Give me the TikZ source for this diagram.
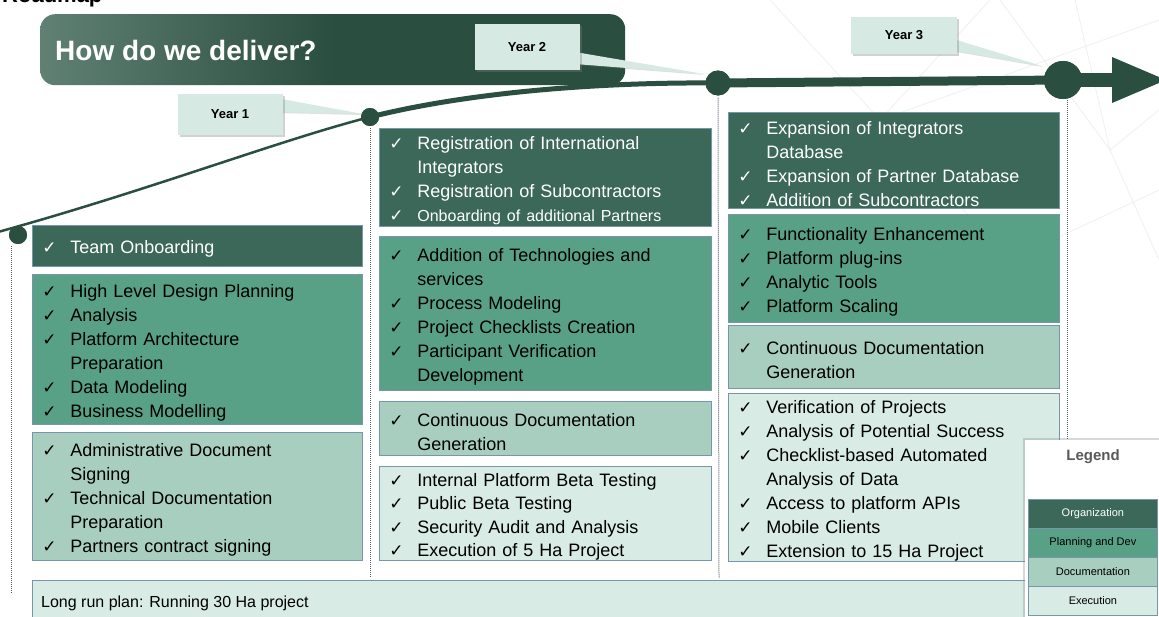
\documentclass[tikz,border=0pt]{standalone}
\usepackage{fontspec}
\setmainfont{Liberation Sans}
\newfontfamily\symf{DejaVu Sans}
\usetikzlibrary{shadows}
\definecolor{dkC}{RGB}{42,78,64}
\definecolor{dkL}{RGB}{96,128,116}
\definecolor{orgC}{RGB}{59,104,89}
\definecolor{planC}{RGB}{88,160,134}
\definecolor{docC}{RGB}{168,206,191}
\definecolor{exeC}{RGB}{217,235,229}
\definecolor{bordC}{RGB}{120,150,170}
\definecolor{calC}{RGB}{214,233,226}
\definecolor{dotC}{RGB}{80,90,110}
\newcommand{\ckm}{{\symf\fontsize{17}{17}\selectfont ✓}}
\newcommand{\itm}[1]{\noindent\hangindent=28pt\hangafter=1\rule{0pt}{19.5pt}\makebox[28pt][l]{\ckm}#1\par}
\begin{document}
\begin{tikzpicture}[x=1pt,y=-1pt,
  box/.style={draw=bordC, line width=0.8pt, inner xsep=10pt, inner ysep=0pt, align=left,
    font=\fontsize{18}{24}\selectfont, anchor=north west},
  orgbox/.style={box, fill=orgC, text=white},
  planbox/.style={box, fill=planC, text=black},
  docbox/.style={box, fill=docC, text=black},
  exebox/.style={box, fill=exeC, text=black},
  legbox/.style={draw=bordC, line width=0.8pt, minimum width=129pt, minimum height=29pt,
    inner sep=0pt, font=\fontsize{11}{13}\selectfont, anchor=north west},
  yearbox/.style={fill=calC, inner sep=0pt, font=\bfseries\fontsize{13}{15}\selectfont,
    drop shadow={shadow xshift=2pt, shadow yshift=-2pt, opacity=0.35}},
  wedge/.style={fill=calC, drop shadow={shadow xshift=1pt, shadow yshift=-1pt, opacity=0.25}},
  milestone/.style={circle, fill=dkC, inner sep=0pt},
  dotline/.style={draw=dotC, line width=1pt, dash pattern=on 0.8pt off 1.2pt},
  bgline/.style={draw=gray!12, line width=0.8pt}
]
\useasboundingbox (0,0) rectangle (1159,616);
\fill[white] (0,0) rectangle (1159,616);

% faint background network
\draw[bgline] (770,0) -- (880,120) -- (1159,20);
\draw[bgline] (880,120) -- (990,0);
\draw[bgline] (1000,0) -- (1110,150) -- (1159,110);
\draw[bgline] (1110,150) -- (1159,260);
\draw[bgline] (1075,0) -- (1110,150);
\draw[bgline] (880,120) -- (1010,260) -- (1159,190);

% cut-off title
\node[anchor=base west, inner sep=0pt, font=\bfseries\fontsize{22}{24}\selectfont] (rm) at (2,2) {Roadmap};

% title box
\node[anchor=north west, minimum width=585pt, minimum height=71pt, rounded corners=15pt,
  left color=dkL, right color=dkC, middle color=dkC, inner sep=0pt] (title) at (40,14) {};
\node[anchor=west, text=white, font=\bfseries\fontsize{28}{30}\selectfont, inner sep=0pt] (ttext) at (55,50) {How do we deliver?};

% milestones
\node[milestone, minimum size=18pt] (n1) at (18,235) {};
\node[milestone, minimum size=18pt] (n2) at (370,117) {};
\node[milestone, minimum size=25pt] (n3) at (718,83) {};
\node[milestone, minimum size=38pt] (n4) at (1063,80) {};
\coordinate (s0) at (-2,232);
\coordinate (ashaft) at (1114,80);
\coordinate (atip) at (1166,80);

% dotted guides
\coordinate (d1) at (11,593);
\coordinate (d2) at (370,578);
\coordinate (d3) at (719,578);
\coordinate (d4a) at (1067,100);
\coordinate (d4) at (1067,578);
\draw[dotline] (11,246) -- (d1);
\draw[dotline] (n2.south) ++(0,2) -- (d2);
\draw[dotline] (n3.south) ++(0,2) -- (d3);
\draw[dotline] (d4a) -- (d4);

% timeline
\draw[dkC, line width=2.5pt] (s0) .. controls (150,190) and (280,140) .. (n2.center);
\draw[dkC, line width=5pt] (n2.center) .. controls (470,92) and (600,82) .. (n3.center);
\draw[dkC, line width=9pt] (n3.center) -- (n4.center);
\draw[dkC, line width=14pt] (n4.center) -- (ashaft);
\fill[dkC] (1112,57) -- (atip) -- (1112,103) -- cycle;
\node[milestone, minimum size=18pt] at (n1) {};
\node[milestone, minimum size=18pt] at (n2) {};
\node[milestone, minimum size=25pt] at (n3) {};
\node[milestone, minimum size=38pt] at (n4) {};

% year callouts
\fill[wedge] (276,98) -- (276,112) -- (363,114) -- cycle;
\node[yearbox, minimum width=105pt, minimum height=41pt] (y1) at (230,114) {Year 1};
\fill[wedge] (575,52) -- (575,64) -- (704,74) -- cycle;
\node[yearbox, minimum width=105pt, minimum height=46pt] (y2) at (527,47) {Year 2};
\fill[wedge] (950,38) -- (950,50) -- (1042,66) -- cycle;
\node[yearbox, minimum width=106pt, minimum height=37pt] (y3) at (904,35) {Year 3};

% column 1
\node[orgbox, text width=310pt, minimum height=41pt] (c1o) at (32,225) {\itm{Team Onboarding}};
\node[planbox, text width=310pt, minimum height=150pt] (c1p) at (32,274) {\itm{High Level Design Planning}\itm{Analysis}\itm{Platform Architecture\newline Preparation}\itm{Data Modeling}\itm{Business Modelling}};
\node[docbox, text width=310pt, minimum height=128pt] (c1d) at (32,432) {\itm{Administrative Document\newline Signing}\itm{Technical Documentation\newline Preparation}\itm{Partners contract signing}};

% column 2
\node[orgbox, text width=312pt, minimum height=98pt] (c2o) at (379,128) {\itm{Registration of International\newline Integrators}\itm{Registration of Subcontractors}\itm{{\fontsize{16}{20}\selectfont Onboarding of additional Partners}}};
\node[planbox, text width=312pt, minimum height=154pt] (c2p) at (379,236) {\itm{Addition of Technologies and\newline services}\itm{Process Modeling}\itm{Project Checklists Creation}\itm{Participant Verification\newline Development}};
\node[docbox, text width=312pt, minimum height=54pt] (c2d) at (379,401) {\itm{Continuous Documentation\newline Generation}};
\node[exebox, text width=312pt, minimum height=94pt, font=\fontsize{18}{23.5}\selectfont] (c2e) at (379,466) {\itm{Internal Platform Beta Testing}\itm{Public Beta Testing}\itm{Security Audit and Analysis}\itm{Execution of 5 Ha Project}};

% column 3
\node[orgbox, text width=311pt, minimum height=96pt] (c3o) at (728,112) {\itm{Expansion of Integrators\newline Database}\itm{Expansion of Partner Database}\itm{Addition of Subcontractors}};
\node[planbox, text width=311pt, minimum height=108pt] (c3p) at (728,214) {\itm{Functionality Enhancement}\itm{Platform plug-ins}\itm{Analytic Tools}\itm{Platform Scaling}};
\node[docbox, text width=311pt, minimum height=63pt] (c3d) at (728,325) {\itm{Continuous Documentation\newline Generation}};
\node[exebox, text width=311pt, minimum height=168pt] (c3e) at (728,393) {\itm{Verification of Projects}\itm{Analysis of Potential Success}\itm{Checklist-based Automated\newline Analysis of Data}\itm{Access to platform APIs}\itm{Mobile Clients}\itm{Extension to 15 Ha Project}};

% long run plan
\node[draw=bordC, line width=0.8pt, fill=exeC, anchor=north west, minimum width=1140pt, minimum height=50pt, inner sep=0pt] (lr) at (32,580) {};
\node[anchor=west, inner sep=0pt, font=\fontsize{16}{18}\selectfont] (lrt) at (41,603) {Long run plan: Running 30 Ha project};

% legend
\node[anchor=north west, fill=white, minimum width=150pt, minimum height=190pt, inner sep=0pt,
  drop shadow={shadow xshift=-2pt, shadow yshift=2pt, opacity=0.3}] (leg) at (1025,440) {};
\node[font=\bfseries\fontsize{15}{17}\selectfont, text=black!65] (legt) at (1093,457) {Legend};
\node[legbox, fill=orgC, text=white] (l1) at (1028,499) {Organization};
\node[legbox, fill=planC] (l2) at (1028,528) {Planning and Dev};
\node[legbox, fill=docC] (l3) at (1028,557) {Documentation};
\node[legbox, fill=exeC] (l4) at (1028,586) {Execution};
\end{tikzpicture}
\end{document}
